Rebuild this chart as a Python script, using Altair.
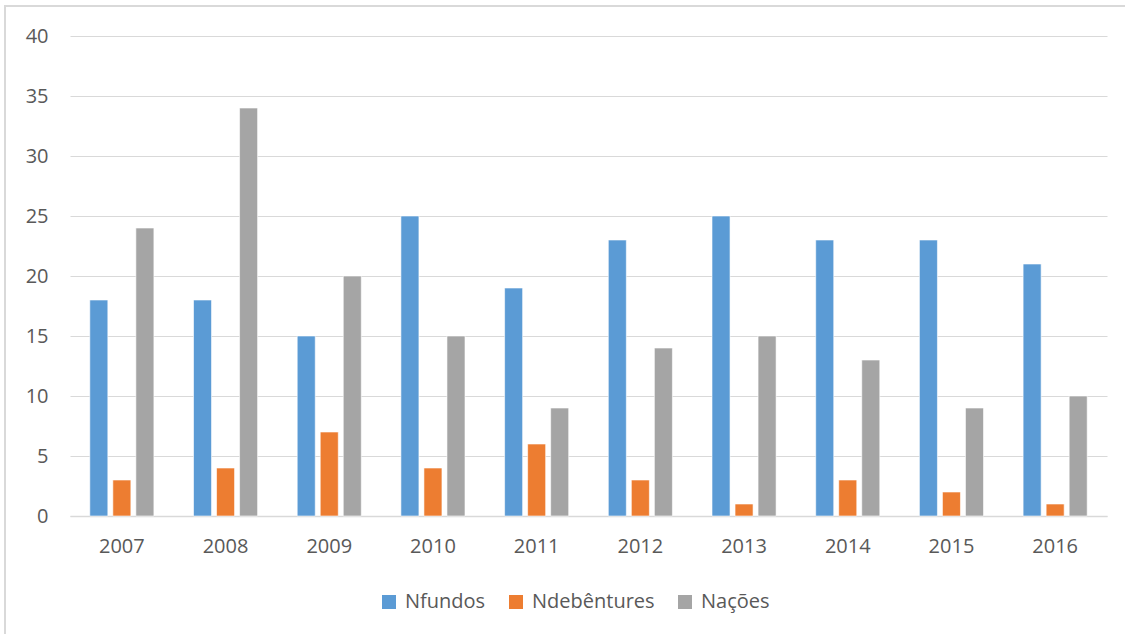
import altair as alt
import pandas as pd

# Yearly counts for the three series
years = ["2007", "2008", "2009", "2010", "2011", "2012", "2013", "2014", "2015", "2016"]
nfundos = [18, 18, 15, 25, 19, 23, 25, 23, 23, 21]
ndebentures = [3, 4, 7, 4, 6, 3, 1, 3, 2, 1]
nacoes = [24, 34, 20, 15, 9, 14, 15, 13, 9, 10]

series_names = ["Nfundos", "Ndebêntures", "Nações"]
series_colors = ["#5B9BD5", "#ED7D31", "#A5A5A5"]

rows = []
for name, values in zip(series_names, [nfundos, ndebentures, nacoes]):
    for year, v in zip(years, values):
        rows.append({"Ano": year, "Série": name, "Valor": v})
df = pd.DataFrame(rows)

FONT = "Open Sans"
TEXT = "#595959"
GRID = "#D9D9D9"

bars = alt.Chart(df).mark_bar(stroke="white", strokeWidth=0.6).encode(
    x=alt.X(
        "Ano:N",
        sort=years,
        title=None,
        scale=alt.Scale(paddingInner=0, paddingOuter=0),
        axis=alt.Axis(
            labelAngle=0,
            labelFontSize=20,
            labelColor=TEXT,
            labelFont=FONT,
            labelPadding=20,
            ticks=False,
            domainColor=GRID,
            domainWidth=1.5,
            grid=False,
        ),
    ),
    xOffset=alt.XOffset(
        "Série:N",
        sort=series_names,
        scale=alt.Scale(paddingInner=0.217, paddingOuter=0.86),
    ),
    y=alt.Y(
        "Valor:Q",
        title=None,
        scale=alt.Scale(domain=[0, 40], nice=False),
        axis=alt.Axis(
            values=[0, 5, 10, 15, 20, 25, 30, 35, 40],
            labelFontSize=20,
            labelColor=TEXT,
            labelFont=FONT,
            labelPadding=22,
            ticks=False,
            domain=False,
            gridColor=GRID,
            gridWidth=1.2,
        ),
    ),
    color=alt.Color(
        "Série:N",
        sort=series_names,
        scale=alt.Scale(domain=series_names, range=series_colors),
        legend=alt.Legend(
            title=None,
            orient="none",
            direction="horizontal",
            legendX=309,
            legendY=556,
            symbolType="square",
            symbolSize=196,
            symbolStrokeWidth=0,
            labelFontSize=20,
            labelFont=FONT,
            labelColor=TEXT,
            labelOffset=6,
            columnPadding=20,
        ),
    ),
)

# Light frame lines along the left and top edges of the chart
edge = pd.DataFrame({"k": [0]})
left_edge = alt.Chart(edge).mark_rule(color=GRID, strokeWidth=2).encode(
    x=alt.value(-65),
    y=alt.value(-31),
    y2=alt.value(700),
)
top_edge = alt.Chart(edge).mark_rule(color=GRID, strokeWidth=2).encode(
    x=alt.value(-66),
    x2=alt.value(1100),
    y=alt.value(-30),
)

chart = alt.layer(left_edge, top_edge, bars).properties(
    width=1037,
    height=480,
    autosize=alt.AutoSizeParams(type="none"),
    padding={"left": 70, "top": 36, "right": 18, "bottom": 118},
    background="white",
).configure_view(stroke=None)

chart.save("out.html", embed_options={"renderer": "svg", "actions": False})
